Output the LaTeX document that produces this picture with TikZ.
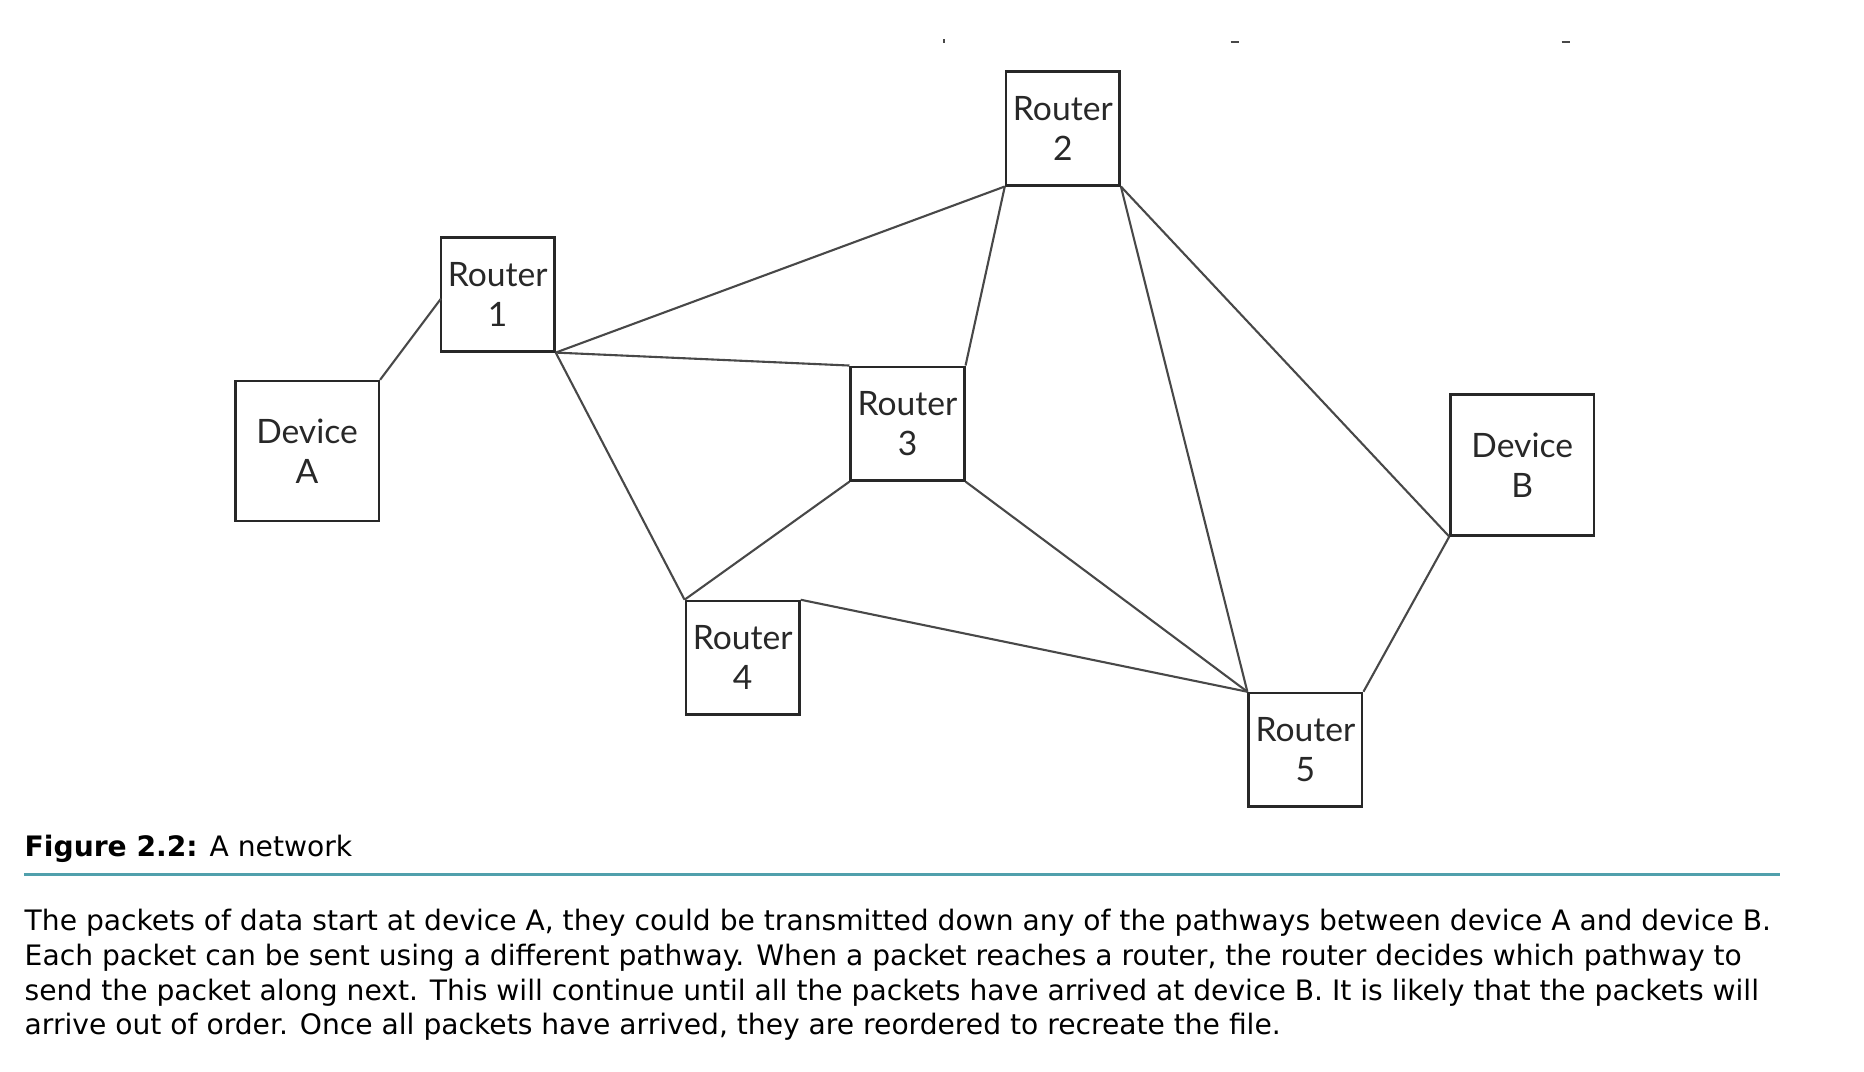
\documentclass[tikz,border=0pt]{standalone}
\usepackage{fontspec}
\setmainfont{DejaVu Sans}
\newfontfamily\boxfont{Lato}
\definecolor{rule}{RGB}{80,160,172}
\definecolor{ink}{RGB}{40,40,40}
\begin{document}
\begin{tikzpicture}[x=0.01cm,y=-0.01cm,
  box/.style={draw=ink,line width=0.6pt,inner sep=0pt,font=\boxfont\fontsize{8}{9.5}\selectfont,text=ink,align=center},
  link/.style={draw=ink!85,line width=0.5pt},
  body/.style={anchor=base west,inner sep=0pt,font=\fontsize{6.7}{8}\selectfont,text=black}]
\useasboundingbox (0,0) rectangle (1560,897);
\node[box,minimum width=0.95cm,minimum height=0.95cm] (r2) at (889.5,107.5) {Router\\2};
\node[box,minimum width=0.95cm,minimum height=0.95cm] (r1) at (416.5,246.5) {Router\\1};
\node[box,minimum width=1.2cm,minimum height=1.17cm] (da) at (257,377.5) {Device\\A};
\node[box,minimum width=0.95cm,minimum height=0.95cm] (r3) at (759.5,354.5) {Router\\3};
\node[box,minimum width=1.2cm,minimum height=1.18cm] (db) at (1274,389) {Device\\B};
\node[box,minimum width=0.95cm,minimum height=0.95cm] (r4) at (621.5,550.5) {Router\\4};
\node[box,minimum width=0.95cm,minimum height=0.95cm] (r5) at (1092.5,627.5) {Router\\5};
\coordinate (ra) at (369,250);
\draw[link] (da.north east) -- (ra);
\draw[link] (r1.south east) -- (r2.south west);
\draw[link] (r1.south east) -- (r3.north west);
\draw[link] (r1.south east) -- (r4.north west);
\draw[link] (r2.south west) -- (r3.north east);
\draw[link] (r2.south east) -- (r5.north west);
\draw[link] (r2.south east) -- (db.south west);
\draw[link] (r3.south west) -- (r4.north west);
\draw[link] (r3.south east) -- (r5.north west);
\draw[link] (r4.north east) -- (r5.north west);
\draw[link] (db.south west) -- (r5.north east);
\coordinate (t1) at (790,33); \coordinate (t1b) at (790,36);
\draw[link] (t1) -- (t1b);
\coordinate (t2) at (1030,35); \coordinate (t2b) at (1037,35);
\draw[link] (t2) -- (t2b);
\coordinate (t3) at (1307,35); \coordinate (t3b) at (1314,35);
\draw[link] (t3) -- (t3b);
\node[body,font=\fontsize{6.7}{8}\selectfont] (cap) at (20,717) {\textbf{Figure 2.2:} A network};
\coordinate (rl) at (20,732); \coordinate (rr) at (1490,732);
\draw[rule,line width=0.8pt] (rl) -- (rr);
\node[body] (l1) at (20,779) {The packets of data start at device A, they could be transmitted down any of the pathways between device A and device B.};
\node[body] (l2) at (20,808) {Each packet can be sent using a different pathway. When a packet reaches a router, the router decides which pathway to};
\node[body] (l3) at (20,837) {send the packet along next. This will continue until all the packets have arrived at device B. It is likely that the packets will};
\node[body] (l4) at (20,866) {arrive out of order. Once all packets have arrived, they are reordered to recreate the file.};
\end{tikzpicture}
\end{document}
